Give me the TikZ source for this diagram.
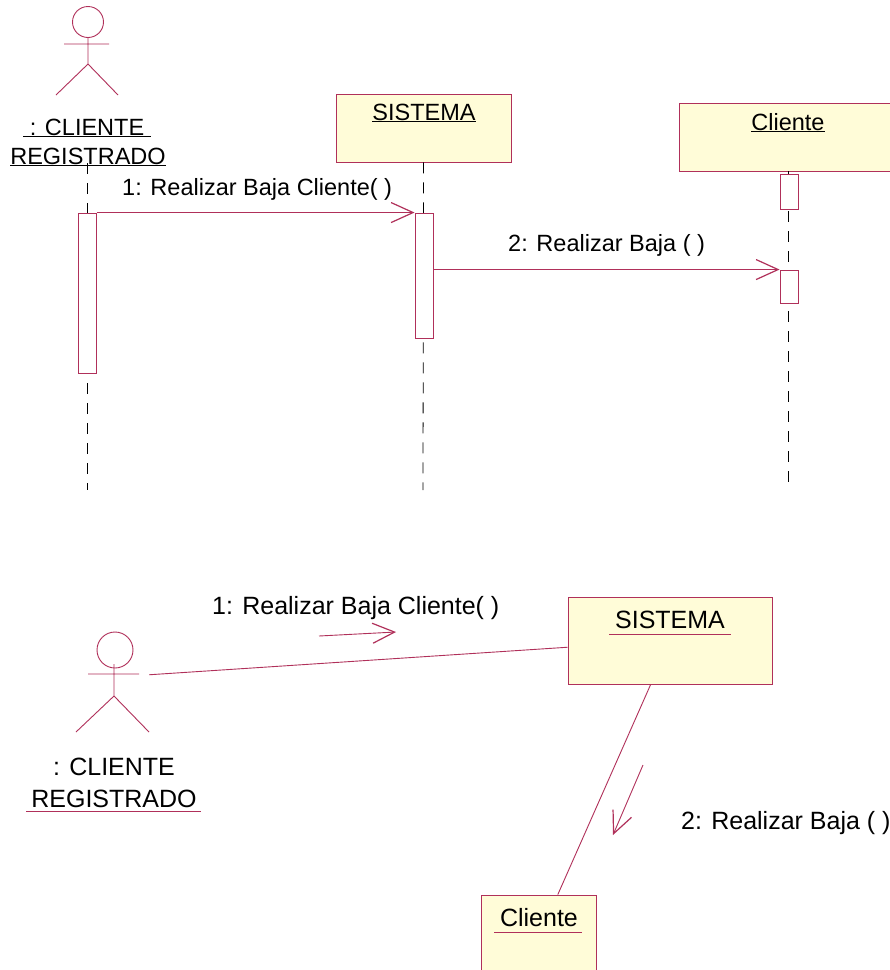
\documentclass[tikz,border=0pt]{standalone}
\usepackage{fontspec}
\setmainfont{Liberation Sans}
\usetikzlibrary{arrows.meta}
\definecolor{umlline}{HTML}{B0305A}
\definecolor{umlfill}{HTML}{FFFCD8}
\tikzset{
  umlbox/.style={draw=umlline,fill=umlfill,line width=0.9pt,inner sep=0pt},
  activation/.style={draw=umlline,fill=white,line width=0.9pt,inner sep=0pt,minimum width=18pt},
  lifeline/.style={black,line width=0.8pt,dash pattern=on 11pt off 9pt},
  msg/.style={draw=umlline,line width=0.9pt,-{Straight Barb[length=22pt,width=20pt,line width=1.2pt]}},
  assoc/.style={draw=umlline,line width=0.9pt},
  actorline/.style={draw=umlline,line width=0.9pt},
  seqtext/.style={anchor=base,inner sep=0pt,font=\fontsize{23.5}{28}\selectfont},
  coltext/.style={anchor=base,inner sep=0pt,font=\fontsize{25}{30}\selectfont},
}
\begin{document}
\begin{tikzpicture}[x=1pt,y=-1pt]
  \fill[white] (0,0) rectangle (890,970);
  \path[use as bounding box] (0,0) rectangle (890,970);
  \clip (0,0) rectangle (890,970);

  % upper part
  \draw[actorline] (88,22) circle (15.5);
  \draw[actorline] (88,37) -- (88,64) (64,44) -- (109,44) (56,95) -- (88,64) -- (118,95);
  \coordinate (uclienteend) at (87.5,490);
  \coordinate (usistemaend) at (423,490);
  \coordinate (uobjetoend) at (788,488);
  \node[umlbox,minimum width=175pt,minimum height=68pt] (usistema) at (423.5,128) {};
  \node[umlbox,minimum width=218pt,minimum height=68pt] (uobjeto) at (788,137) {};
  \coordinate (uclientetop) at (87.5,163);
  \draw[lifeline] (uclientetop) -- (uclienteend);
  \draw[lifeline] (usistema.south) -- (usistemaend);
  \draw[lifeline] (uobjeto.south) -- (uobjetoend);
  \node[activation,minimum height=160pt] (uactcliente) at (87.5,293) {};
  \node[activation,minimum height=125pt] (uactsistema) at (424,275.5) {};
  \node[activation,minimum height=35pt] (uactobjetoa) at (789,191.5) {};
  \node[activation,minimum height=33pt] (uactobjetob) at (789,286.5) {};
  \draw[msg] (uactcliente.north east) -- (uactsistema.north west);
  \draw[msg] (uactsistema.east |- uactobjetob.north) -- (uactobjetob.north west);
  \node[seqtext] (ulabela) at (87,135) {\underline{\ : CLIENTE\ }};
  \node[seqtext] (ulabelb) at (88,164) {\underline{REGISTRADO}};
  \node[seqtext] (usistemat) at (424,120) {\underline{SISTEMA}};
  \node[seqtext] (uobjetot) at (788,130) {\underline{Cliente}};
  \node[seqtext,anchor=base west] (umsga) at (122,195) {1: Realizar Baja Cliente( )};
  \node[seqtext,anchor=base west] (umsgb) at (508,251) {2: Realizar Baja ( )};

  % lower part
  \node[minimum width=68pt,minimum height=110pt,inner sep=0pt] (lactor) at (115,677) {};
  \node[umlbox,minimum width=204pt,minimum height=87pt] (lsistema) at (670,640.5) {};
  \node[umlbox,minimum width=115pt,minimum height=87pt] (lobjeto) at (538.5,938.5) {};
  \draw[assoc] (lactor) -- (lsistema);
  \draw[assoc] (lsistema) -- (lobjeto);
  \draw[actorline] (115,650) circle (18);
  \draw[actorline] (114,664) -- (114,696) (88,674) -- (139,674) (76,732) -- (114,696) -- (149,732);
  \node[coltext] (llabela) at (114,775) {: CLIENTE};
  \node[coltext] (llabelb) at (114,807) {REGISTRADO};
  \node[coltext] (lsistemat) at (670,628) {SISTEMA};
  \node[coltext] (lobjetot) at (539,926) {Cliente};
  \node[coltext,anchor=base west] (lmsga) at (212,614) {1: Realizar Baja Cliente( )};
  \node[coltext,anchor=base west] (lmsgb) at (681,829) {2: Realizar Baja ( )};
  \coordinate (lula) at (26,811);
  \coordinate (lulb) at (201,811);
  \coordinate (lulc) at (609,634);
  \coordinate (luld) at (731,634);
  \coordinate (lule) at (494,932);
  \coordinate (lulf) at (582,932);
  \draw[assoc] (lula) -- (lulb);
  \draw[assoc] (lulc) -- (luld);
  \draw[assoc] (lule) -- (lulf);
  \coordinate (larra) at (319,636);
  \coordinate (larrb) at (396,632);
  \coordinate (larrc) at (643,765);
  \coordinate (larrd) at (613,835);
  \draw[msg] (larra) -- (larrb);
  \draw[msg] (larrc) -- (larrd);
\end{tikzpicture}
\end{document}
